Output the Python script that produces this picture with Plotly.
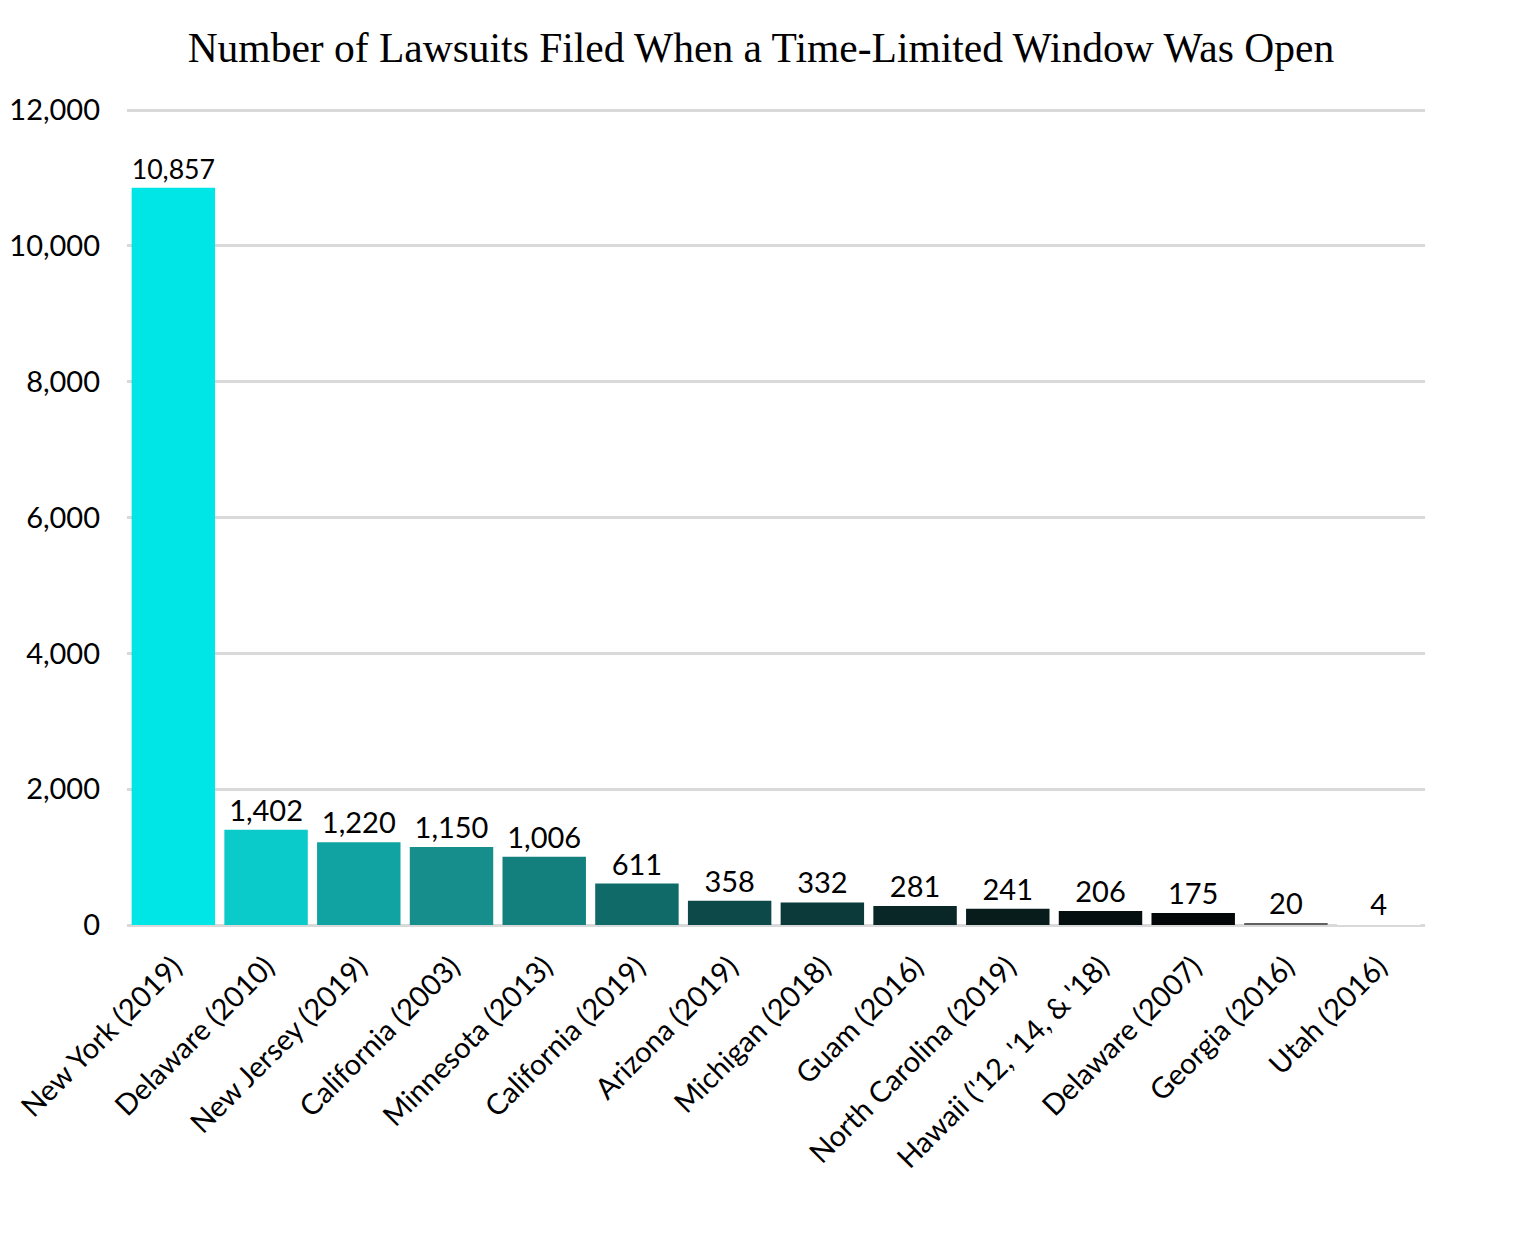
import plotly.graph_objects as go

categories = ["New York (2019)", "Delaware (2010)", "New Jersey (2019)", "California (2003)",
              "Minnesota (2013)", "California (2019)", "Arizona (2019)", "Michigan (2018)",
              "Guam (2016)", "North Carolina (2019)", "Hawaii ('12, '14, & '18)",
              "Delaware (2007)", "Georgia (2016)", "Utah (2016)"]
lawsuits = [10857, 1402, 1220, 1150, 1006, 611, 358, 332, 281, 241, 206, 175, 20, 4]
bar_colors = ["#00E6E6", "#0ACACA", "#10A3A1", "#168E8C", "#14807E", "#0F6A68",
              "#0E4949", "#0C3A3A", "#0A2727", "#081C1C", "#050F0F", "#030707",
              "#606060", "#FFFFFF"]
y_ticks = [0, 2000, 4000, 6000, 8000, 10000, 12000]

fig = go.Figure(go.Bar(
    x=categories, y=lawsuits,
    marker=dict(color=bar_colors, line=dict(width=0)),
    text=[f"{v:,}" for v in lawsuits], textposition="outside",
    textfont=dict(family="Lato", size=29, color="#000000"),
    cliponaxis=False, width=0.9,
))

fig.update_layout(
    width=1521, height=1237,
    paper_bgcolor="white", plot_bgcolor="white",
    margin=dict(l=119, r=104, t=92, b=320, autoexpand=False),
    title=dict(text="Number of Lawsuits Filed When a Time-Limited Window Was Open",
               x=0.495, xanchor="center", y=0.968, yanchor="middle",
               font=dict(family="Liberation Serif", size=41.5, color="#000000")),
    showlegend=False, bargap=0.1,
)
fig.update_yaxes(range=[0, 12150], tickvals=y_ticks, ticktext=[f"{v:,}" for v in y_ticks],
                 showgrid=True, gridcolor="#D9D9D9", gridwidth=3,
                 zeroline=True, zerolinecolor="#D9D9D9", zerolinewidth=3,
                 showline=False, ticks="", ticklabelstandoff=26, automargin=False,
                 tickfont=dict(family="Lato", size=29, color="#000000"))
fig.update_xaxes(tickangle=-45, showline=False, ticks="", ticklabelstandoff=18,
                 automargin=False,
                 tickfont=dict(family="Lato", size=29, color="#000000"))

fig.write_html("out.html")
